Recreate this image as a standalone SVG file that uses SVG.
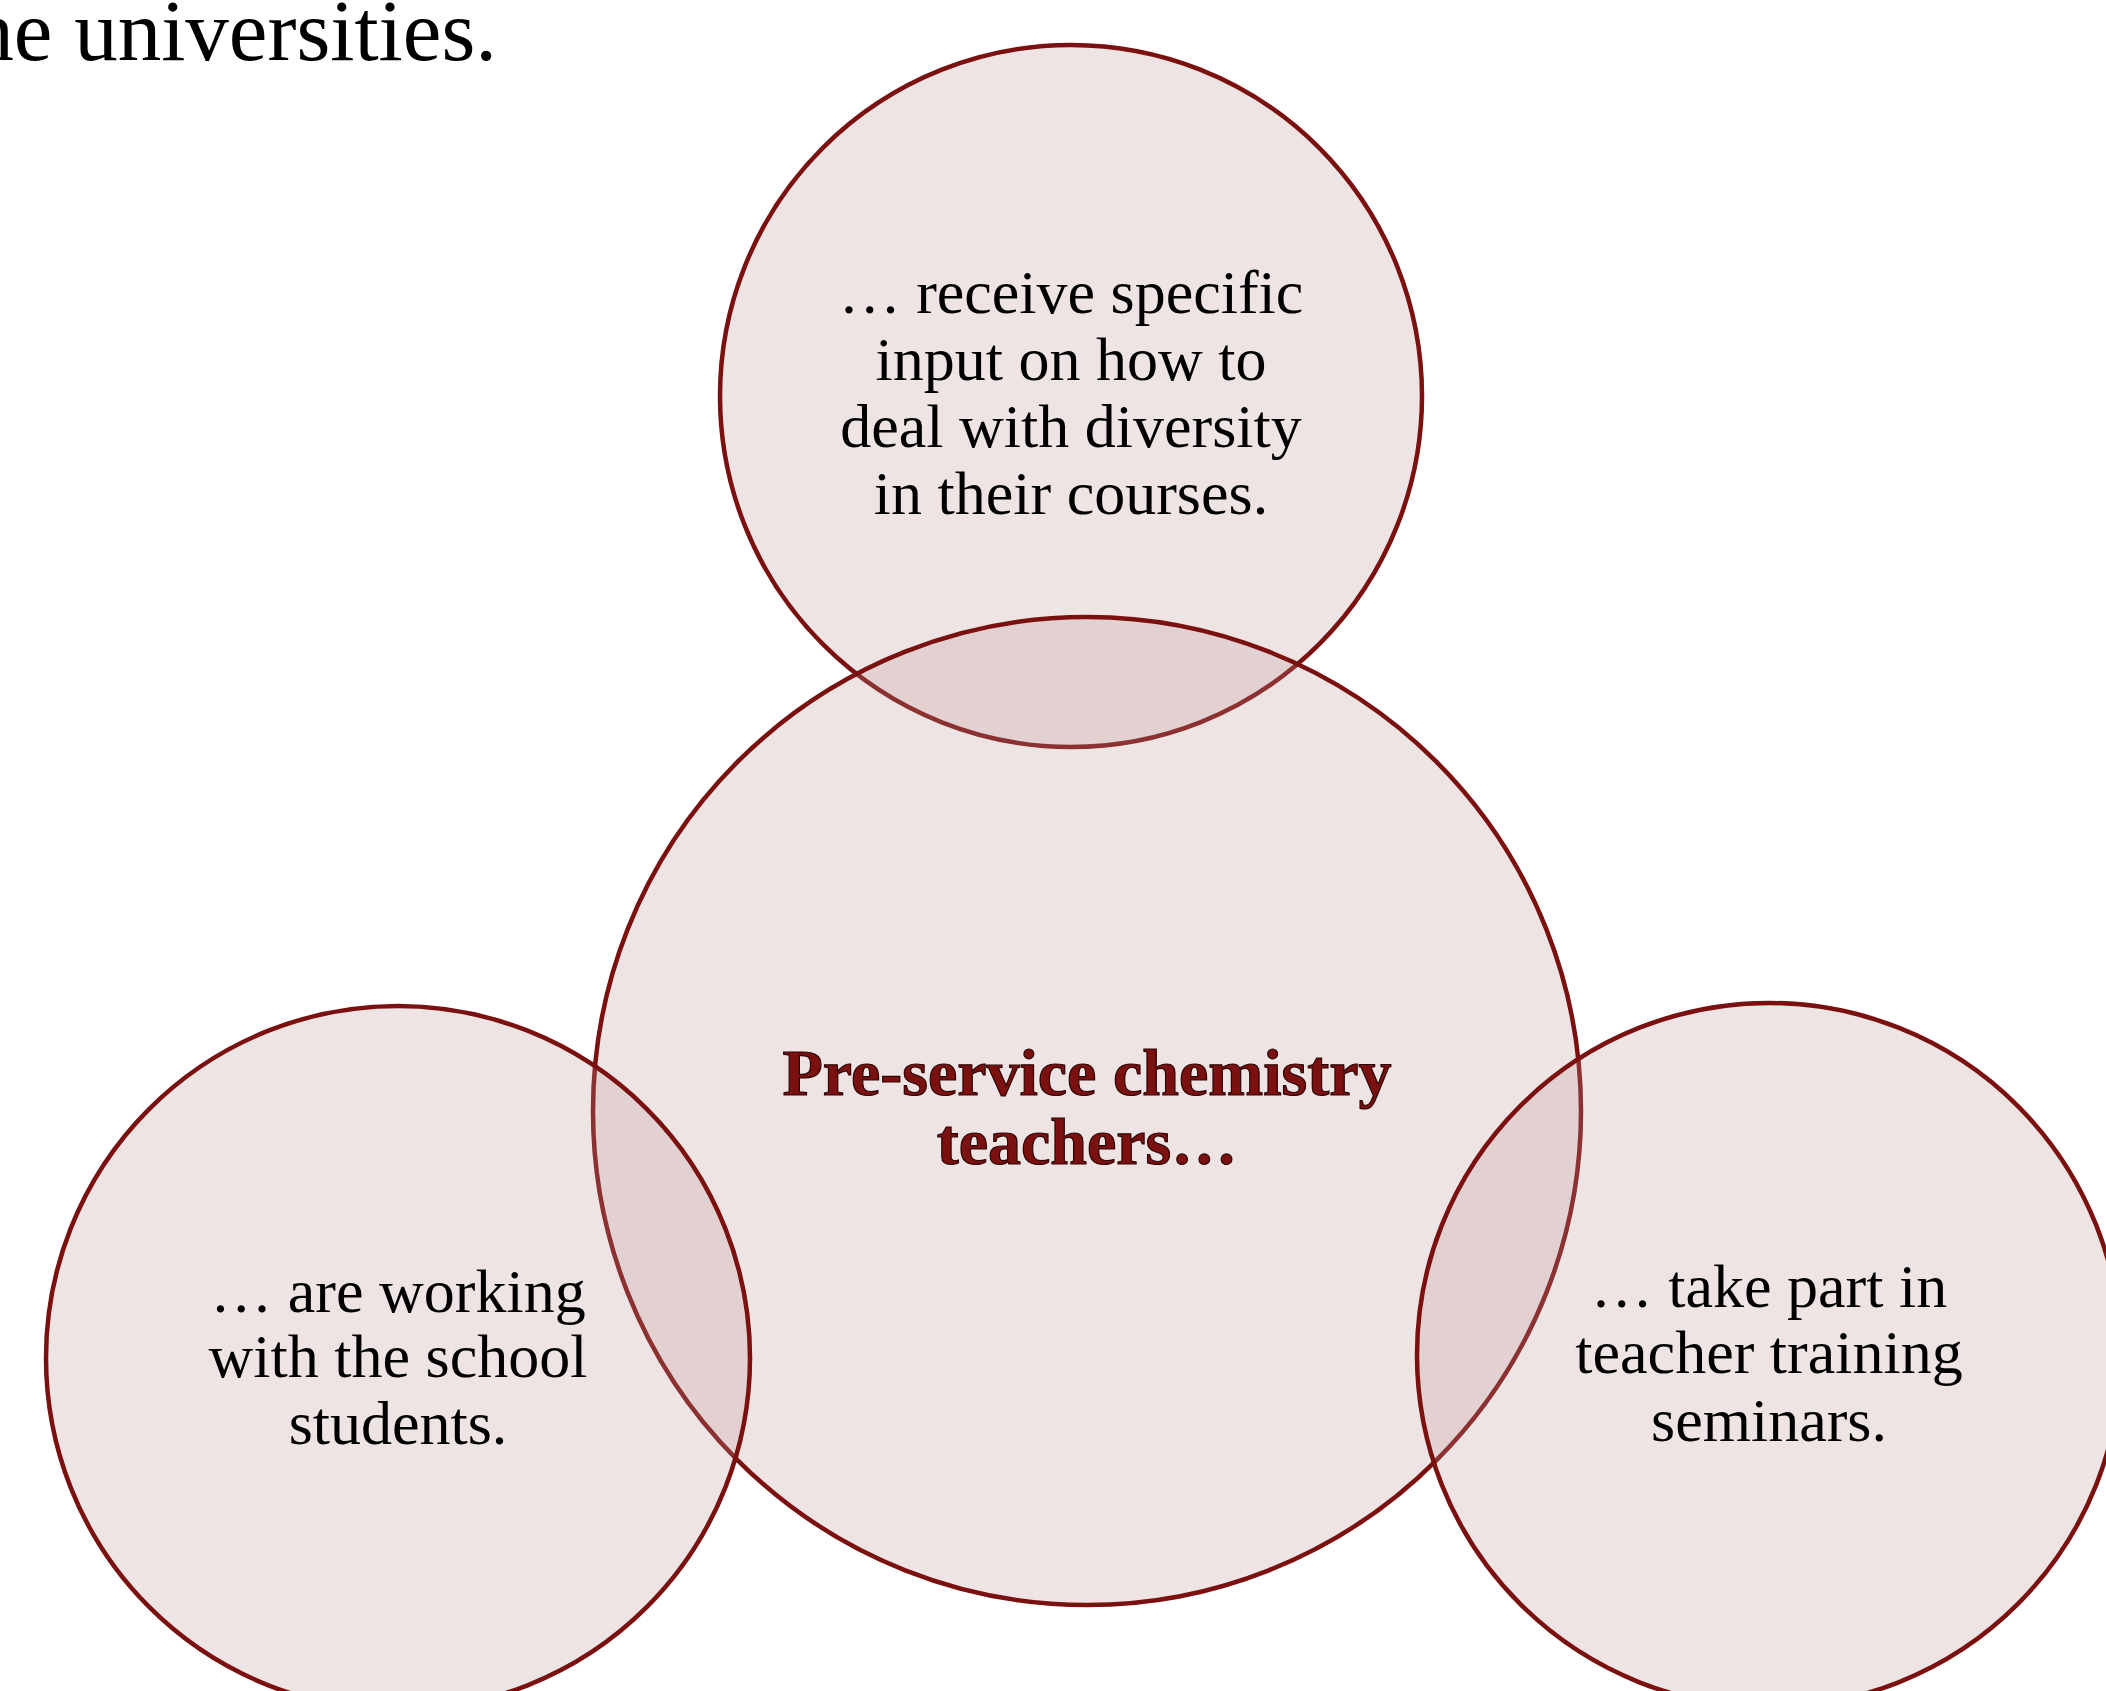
<svg xmlns="http://www.w3.org/2000/svg" width="2106" height="1691" viewBox="0 0 2106 1691">
<style>
.c{fill:rgb(191,147,147);fill-opacity:0.25;stroke:#7a1010;stroke-width:4.5}
.t{font-family:"Liberation Serif","Times New Roman",serif;font-size:62px;fill:#000;text-anchor:middle}
.h{font-family:"Liberation Serif","Times New Roman",serif;font-size:66px;font-weight:bold;fill:#7a1010;stroke:#2a0000;stroke-width:1.2;text-anchor:middle}
.p{font-family:"Liberation Serif","Times New Roman",serif;font-size:87px;fill:#000}
</style>
<rect width="2106" height="1691" fill="#fff"/>
<text class="p" x="497" y="60" text-anchor="end">the universities.</text>
<g id="node-top">
<circle class="c" cx="1071" cy="396" r="351"/>
<text class="t" x="1071" y="313">… receive specific</text>
<text class="t" x="1071" y="380">input on how to</text>
<text class="t" x="1071" y="447">deal with diversity</text>
<text class="t" x="1071" y="514">in their courses.</text>
</g>
<g id="node-center">
<circle class="c" cx="1087" cy="1111" r="494"/>
<text class="h" x="1087" y="1095">Pre-service chemistry</text>
<text class="h" x="1087" y="1164">teachers…</text>
</g>
<g id="node-left">
<circle class="c" cx="398" cy="1358" r="352"/>
<text class="t" x="398" y="1312">… are working</text>
<text class="t" x="398" y="1377">with the school</text>
<text class="t" x="398" y="1444">students.</text>
</g>
<g id="node-right">
<circle class="c" cx="1769" cy="1355" r="352"/>
<text class="t" x="1769" y="1307">… take part in</text>
<text class="t" x="1769" y="1373">teacher training</text>
<text class="t" x="1769" y="1441">seminars.</text>
</g>
<g id="connectors"></g>
</svg>
